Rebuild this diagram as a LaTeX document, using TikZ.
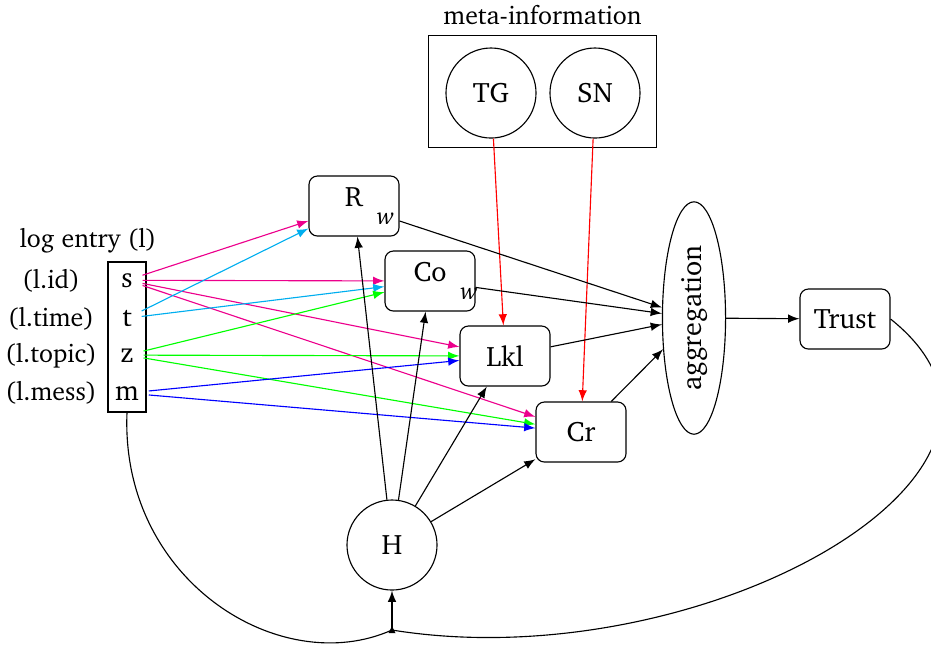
\documentclass[tikz,border=0pt]{standalone}
\usepackage[T1]{fontenc}
\usepackage{charter}
\usepackage{tikz}
\usetikzlibrary{shapes.geometric}

\definecolor{idpink}{RGB}{236,0,140}
\definecolor{timeblue}{RGB}{0,174,239}

\newcommand{\wsub}{\rlap{\enspace\raisebox{-6.5pt}{\fontsize{8.5}{10}\selectfont\textit{w}}}}

\tikzset{
  box/.style={draw, rounded corners=3pt, minimum width=1.125cm, minimum height=0.75cm},
  ball/.style={draw, circle, minimum size=1.125cm},
  caption/.style={font=\fontsize{9.2}{11}\selectfont},
}

\begin{document}
\begin{tikzpicture}[x=0.0125cm, y=-0.0125cm, >=latex]
        \useasboundingbox (0, 0) rectangle (931, 644);
        % log entry
        \node[caption] (logtitle) at (88, 241) {log entry (l)};
        \node[draw, minimum width=0.475cm, minimum height=1.875cm] (log) at (127, 337) {};
        \node[anchor=base] (s) at (127, 287) {s};
        \node[anchor=base] (t) at (127, 326) {t};
        \node[anchor=base] (z) at (127, 362) {z};
        \node[anchor=base] (m) at (127, 400) {m};
        \node[caption, anchor=base] (lid) at (51, 288) {(l.id)};
        \node[caption, anchor=base] (ltime) at (51, 326) {(l.time)};
        \node[caption, anchor=base] (ltopic) at (51, 362) {(l.topic)};
        \node[caption, anchor=base] (lmess) at (51, 400) {(l.mess)};
        % measures
        \node[box] (R) at (354, 206) {R\wsub};
        \node[box] (Co) at (430, 281) {Co\wsub};
        \node[box] (Lkl) at (505, 356) {Lkl};
        \node[box] (Cr) at (581, 432) {Cr};
        \node[ball] (H) at (392, 545) {H};
        % meta-information
        \node[draw, minimum width=2.84cm, minimum height=1.41cm] (meta) at (542.5, 91.5) {};
        \node[caption, above] (metatitle) at (meta.north) {meta-information};
        \node[ball] (TG) at (491, 93) {TG};
        \node[ball] (SN) at (595, 93) {SN};
        % aggregation and trust
        \node[draw, ellipse, rotate=90, minimum width=2.84cm, minimum height=0.725cm] (agg) at (694, 318) {aggregation};
        \node[box] (Trust) at (845, 319) {Trust};
        \coordinate (j) at (392, 630);

        \draw[->, idpink] (s) -- (R);
        \draw[->, idpink] (s) -- (Co);
        \draw[->, idpink] (s) -- (Lkl);
        \draw[->, idpink] (s) -- (Cr);
        \draw[->, timeblue] (t) -- (R);
        \draw[->, timeblue] (t) -- (Co);
        \draw[->, green] (z) -- (Co);
        \draw[->, green] (z) -- (Lkl);
        \draw[->, green] (z) -- (Cr);
        \draw[->, blue] (m) -- (Lkl);
        \draw[->, blue] (m) -- (Cr);

        \draw[->] (H) -- (R);
        \draw[->] (H) -- (Co);
        \draw[->] (H) -- (Lkl);
        \draw[->] (H) -- (Cr);
        \draw[->, red] (TG) -- (Lkl);
        \draw[->, red] (SN) -- (Cr);

        \draw[->] (R) -- (agg);
        \draw[->] (Co) -- (agg);
        \draw[->] (Lkl) -- (agg);
        \draw[->] (Cr) -- (agg);
        \draw[->] (agg) -- (Trust);

        % feedback loops
        \draw (log.south) .. controls (120, 580) and (280, 680) .. (j);
        \draw (Trust.east) .. controls (1080, 470) and (700, 680) .. (j);
        \fill (j) ++(0, -4) -- ++(3.5, 7) -- ++(-7, 0) -- cycle;
        \draw[->] (j) -- (H);
    \end{tikzpicture}
\end{document}
